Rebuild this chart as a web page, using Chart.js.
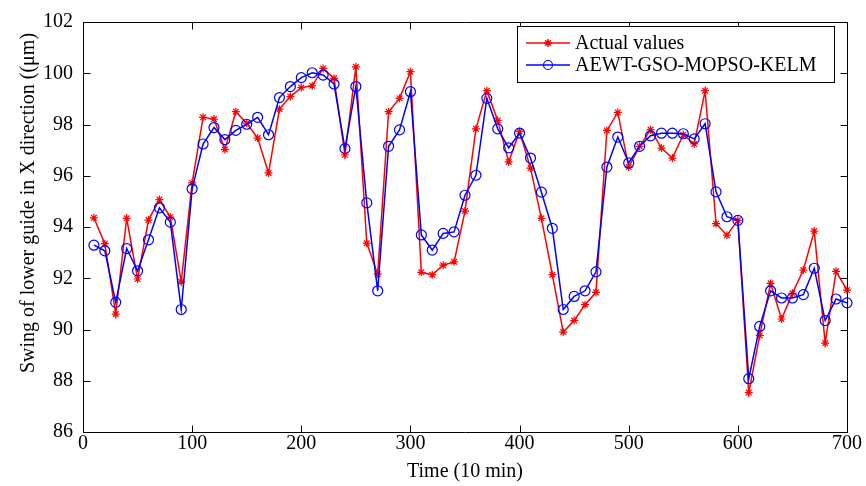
<!DOCTYPE html>
<html>
<head>
<meta charset="utf-8">
<script src="https://cdn.jsdelivr.net/npm/chart.js@4/dist/chart.umd.min.js"></script>
<style>
html,body{margin:0;padding:0;background:#fff;}
#wrap{width:866px;height:486px;position:relative;}
</style>
</head>
<body>
<div id="wrap"><canvas id="c" width="866" height="486"></canvas></div>
<script>
const timeValues = [10,20,30,40,50,60,70,80,90,100,110,120,130,140,150,160,170,180,190,200,210,220,230,240,250,260,270,280,290,300,310,320,330,340,350,360,370,380,390,400,410,420,430,440,450,460,470,480,490,500,510,520,530,540,550,560,570,580,590,600,610,620,630,640,650,660,670,680,690,700];
const actualValues = [94.36,93.35,90.60,94.34,91.97,94.27,95.07,94.39,91.86,95.72,
98.28,98.21,97.02,98.50,98.05,97.47,96.11,98.60,99.09,99.44,
99.51,100.19,99.80,96.82,100.25,93.37,92.16,98.50,99.02,100.06,
92.23,92.14,92.51,92.64,94.62,97.83,99.32,98.16,96.54,97.73,
96.30,94.34,92.14,89.90,90.35,90.97,91.45,97.77,98.47,96.34,
97.15,97.80,97.08,96.69,97.60,97.24,99.32,94.13,93.68,94.26,
87.54,89.77,91.80,90.41,91.41,92.32,93.84,89.47,92.27,91.54];
const predictedValues = [93.29,93.07,91.06,93.16,92.29,93.50,94.75,94.19,90.78,95.49,
97.24,97.88,97.41,97.77,98.01,98.28,97.60,99.05,99.48,99.83,
100.02,99.93,99.58,97.06,99.48,94.94,91.51,97.15,97.79,99.28,
93.69,93.10,93.75,93.81,95.24,96.02,99.02,97.83,97.09,97.66,
96.69,95.36,93.95,90.78,91.29,91.51,92.25,96.34,97.51,96.50,
97.15,97.56,97.66,97.66,97.64,97.44,98.03,95.37,94.40,94.26,
88.08,90.12,91.51,91.23,91.23,91.36,92.39,90.35,91.19,91.04];
const seriesNames = ['Actual values','AEWT-GSO-MOPSO-KELM'];
const xTitle = 'Time (10 min)';
const yTitle = 'Swing of lower guide in X direction ((\u03bcm)';

const FONT = '"Liberation Serif", "Times New Roman", serif';

const framePlugin = {
  id: 'frame',
  afterDraw(chart) {
    const ctx = chart.ctx;
    const {left, right, top, bottom} = chart.chartArea;
    const xs = chart.scales.x, ys = chart.scales.y;
    ctx.save();
    ctx.strokeStyle = '#000';
    ctx.lineWidth = 1;
    const L = Math.round(left) + 0.5, R = Math.round(right) + 0.5, T = Math.round(top) + 0.5, B = Math.round(bottom) + 0.5;
    ctx.beginPath();
    ctx.rect(L, T, R - L, B - T);
    const tl = 7;
    xs.ticks.forEach(t => {
      const p = Math.round(xs.getPixelForValue(t.value)) + 0.5;
      ctx.moveTo(p, B); ctx.lineTo(p, B - tl);
      ctx.moveTo(p, T); ctx.lineTo(p, T + tl);
    });
    ys.ticks.forEach(t => {
      const p = Math.round(ys.getPixelForValue(t.value)) + 0.5;
      ctx.moveTo(L, p); ctx.lineTo(L + tl, p);
      ctx.moveTo(R, p); ctx.lineTo(R - tl, p);
    });
    ctx.stroke();

    // y-axis title
    ctx.fillStyle = '#000';
    ctx.font = '20px ' + FONT;
    ctx.textAlign = 'center';
    ctx.textBaseline = 'middle';
    ctx.translate(29, 203);
    ctx.rotate(-Math.PI / 2);
    ctx.fillText(yTitle, 0, 0);
    ctx.restore();

    // legend
    ctx.save();
    const bx = 517.5, by = 26.5, bw = 317, bh = 56;
    ctx.fillStyle = '#fff';
    ctx.fillRect(bx, by, bw, bh);
    ctx.strokeStyle = '#000';
    ctx.lineWidth = 1;
    ctx.strokeRect(bx, by, bw, bh);
    const rows = [43, 65];
    const colors = ['#ff0000', '#0000ff'];
    ctx.font = '20px ' + FONT;
    ctx.textBaseline = 'middle';
    ctx.textAlign = 'left';
    rows.forEach((ry, i) => {
      ctx.strokeStyle = colors[i];
      ctx.lineWidth = 1.5;
      ctx.beginPath();
      ctx.moveTo(526, ry); ctx.lineTo(570, ry);
      ctx.stroke();
      if (i === 0) {
        Chart.helpers.drawPoint(ctx, {pointStyle: 'star', radius: 4, borderWidth: 1.2}, 548, ry);
      } else {
        ctx.lineWidth = 1.2;
        ctx.beginPath();
        ctx.arc(548, ry, 4.5, 0, Math.PI * 2);
        ctx.stroke();
      }
      ctx.fillStyle = '#000';
      ctx.fillText(seriesNames[i], 575, ry + 1);
    });
    ctx.restore();
  }
};

const actualData = timeValues.map((t, i) => ({x: t, y: actualValues[i]}));
const predictedData = timeValues.map((t, i) => ({x: t, y: predictedValues[i]}));

new Chart(document.getElementById('c'), {
  type: 'line',
  data: {
    datasets: [
      {
        label: seriesNames[0],
        data: actualData,
        borderColor: '#ff0000',
        backgroundColor: 'rgba(0,0,0,0)',
        borderWidth: 1.5,
        pointStyle: 'star',
        pointRadius: 4,
        pointBorderWidth: 1.2,
        pointBorderColor: '#ff0000',
        tension: 0,
        fill: false,
        clip: false,
        order: 2
      },
      {
        label: seriesNames[1],
        data: predictedData,
        borderColor: '#0000ff',
        backgroundColor: 'rgba(0,0,0,0)',
        borderWidth: 1.5,
        pointStyle: 'circle',
        pointRadius: 5,
        pointBorderWidth: 1.2,
        pointBorderColor: '#0000ff',
        pointBackgroundColor: 'rgba(0,0,0,0)',
        tension: 0,
        fill: false,
        clip: false,
        order: 1
      }
    ]
  },
  options: {
    responsive: false,
    animation: false,
    devicePixelRatio: 1,
    layout: {padding: {left: 0, right: 19, top: 19, bottom: 0}},
    plugins: {
      legend: {display: false},
      tooltip: {enabled: false}
    },
    scales: {
      x: {
        type: 'linear',
        min: 0, max: 700,
        grid: {display: false, drawTicks: false},
        border: {display: false},
        ticks: {stepSize: 100, color: '#000', font: {family: FONT, size: 20}, padding: 0, maxRotation: 0, autoSkip: false},
        title: {display: true, text: xTitle, color: '#000', font: {family: FONT, size: 20}, padding: {top: 0, bottom: 2}},
        afterFit(s) { s.height = 54; }
      },
      y: {
        type: 'linear',
        min: 86, max: 102,
        grid: {display: false, drawTicks: false},
        border: {display: false},
        ticks: {stepSize: 2, color: '#000', font: {family: FONT, size: 20}, padding: 10},
        title: {display: false},
        afterFit(s) { s.width = 83; }
      }
    }
  },
  plugins: [framePlugin]
});
</script>
</body>
</html>
